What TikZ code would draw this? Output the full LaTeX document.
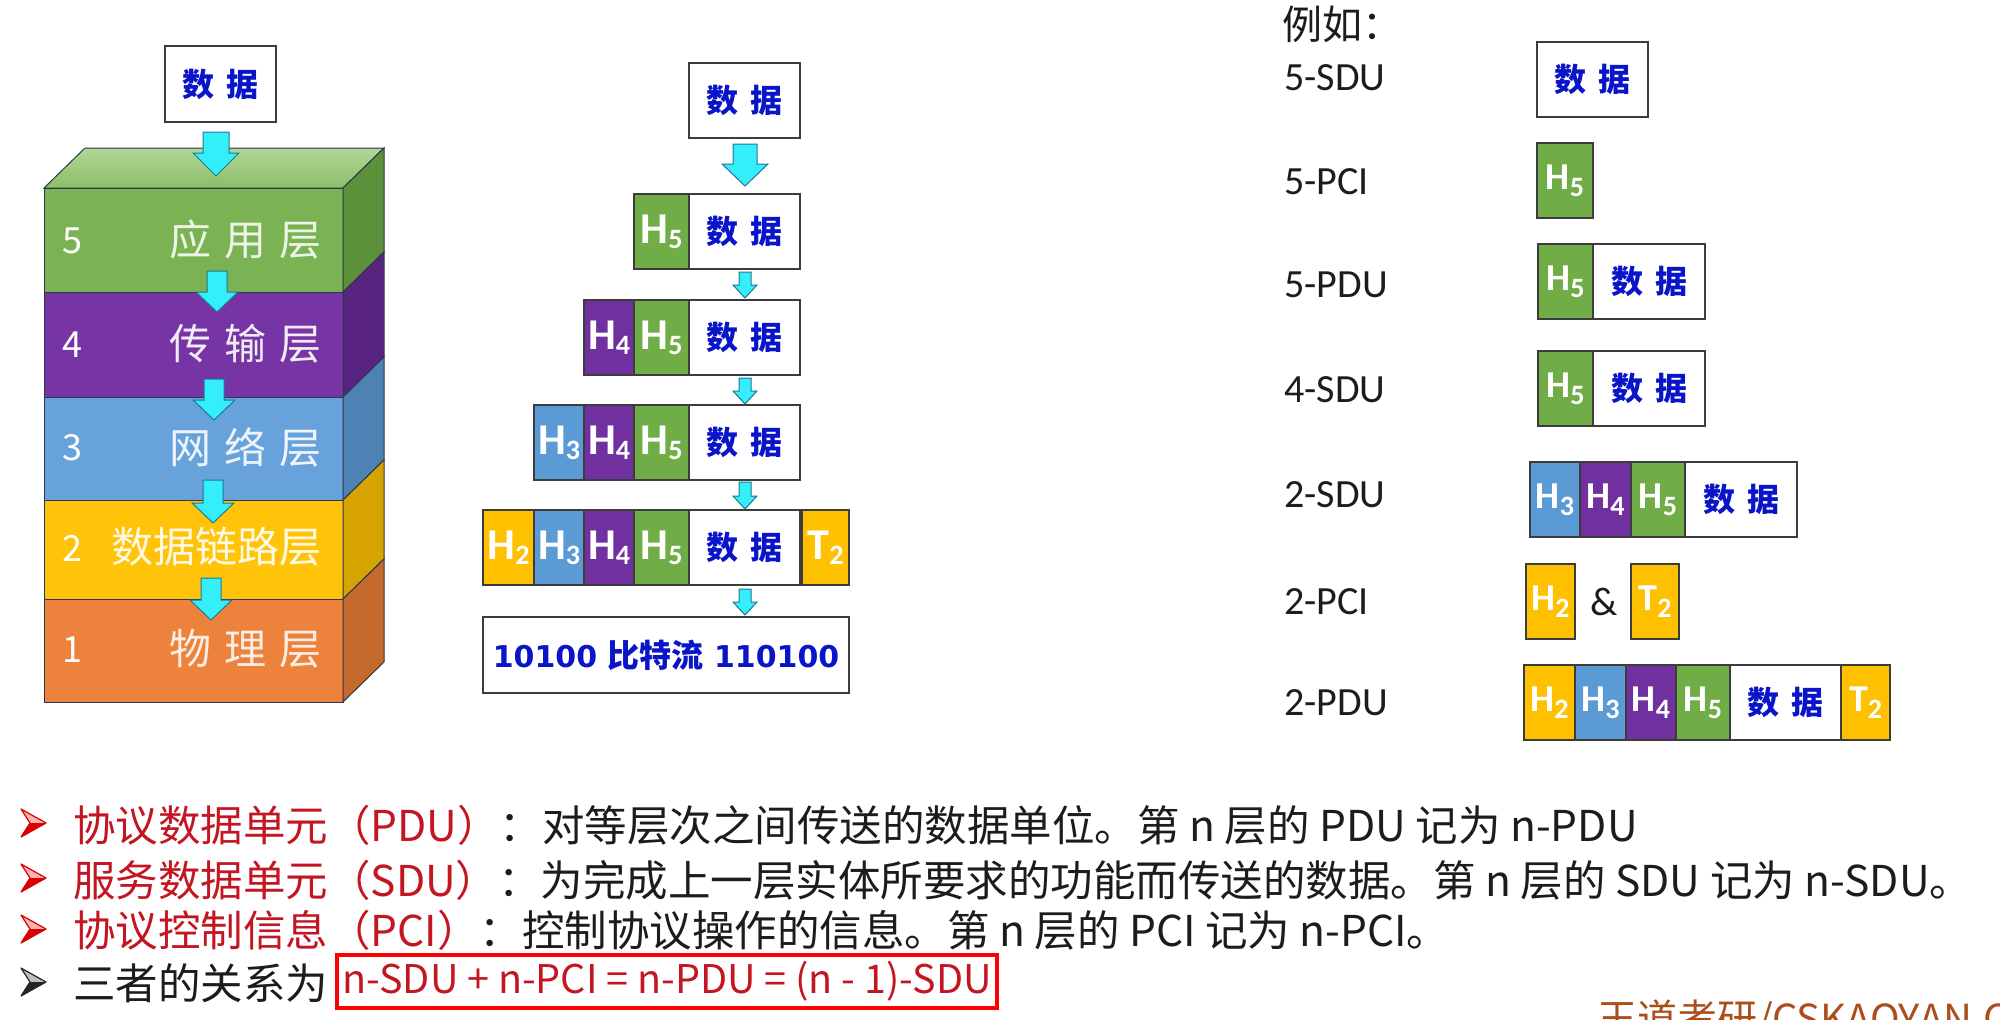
\documentclass[tikz,border=0pt]{standalone}
\usepackage{fontspec}
\newfontfamily\cjk{Noto Sans CJK SC}
\newfontfamily\calf{Carlito}
\newfontfamily\dvs{DejaVu Sans}
\usetikzlibrary{calc}

\definecolor{cgreen}{RGB}{112,173,71}
\definecolor{cpurple}{RGB}{112,48,160}
\definecolor{cblue}{RGB}{91,155,213}
\definecolor{cgold}{RGB}{255,192,0}
\definecolor{corange}{RGB}{237,125,49}
\definecolor{sgreen}{RGB}{122,178,84}
\definecolor{spurple}{RGB}{118,52,164}
\definecolor{sblue}{RGB}{104,162,218}
\definecolor{sgold}{RGB}{255,196,10}
\definecolor{sorange}{RGB}{236,130,60}
\definecolor{dgreen}{RGB}{92,145,60}
\definecolor{dpurple}{RGB}{88,36,128}
\definecolor{dblue2}{RGB}{78,130,180}
\definecolor{dgold}{RGB}{214,163,0}
\definecolor{dorange}{RGB}{196,106,44}
\definecolor{dblue}{RGB}{10,20,200}
\definecolor{myred}{RGB}{196,22,34}
\definecolor{txt}{RGB}{28,28,28}
\definecolor{brownish}{RGB}{172,78,28}
\definecolor{acyan}{RGB}{52,238,250}
\definecolor{aedge}{RGB}{30,120,150}
\definecolor{edge}{RGB}{60,60,60}

\newcommand\mH[2]{{\calf\bfseries\fontsize{44pt}{44pt}\selectfont #1\raisebox{-5pt}{\fontsize{28pt}{28pt}\selectfont #2}}}
\newcommand\rH[2]{{\calf\bfseries\fontsize{38pt}{38pt}\selectfont #1\raisebox{-7pt}{\fontsize{28pt}{28pt}\selectfont #2}}}
\newcommand\shuju{{\cjk\bfseries\fontsize{32pt}{32pt}\selectfont 数\hspace{12pt}据}}
\newcommand\blkarr[6]{\filldraw[arrst] ({#1-#5},#2) -- ({#1+#5},#2) -- ({#1+#5},{#3-#6}) -- ({#1+#4},{#3-#6}) -- (#1,#3) -- ({#1-#4},{#3-#6}) -- ({#1-#5},{#3-#6}) -- cycle;}
\newcommand\stlayer[4]{%
  \filldraw[stk, fill=#3] (44,#1) rectangle (343,#2);
  \filldraw[stk, fill=#4] (343,#1) -- (384,{#1-40}) -- (384,{#2-40}) -- (343,#2) -- cycle;}
\newcommand\bulshape[3]{%
  \fill[#2] (21,{#1-14}) -- (46,#1) -- (30,#1) -- cycle;
  \fill[#3] (30,#1) -- (46,#1) -- (21,{#1+14}) -- cycle;
  \draw[#3, line width=1.2pt, line join=round] (21,{#1-14}) -- (46,#1) -- (21,{#1+14}) -- (30,#1) -- cycle;}

\tikzset{
  stk/.style={draw={rgb,255:red,45;green,55;blue,75}, line width=1pt},
  arrst/.style={fill=acyan, draw=aedge, line width=1pt, line join=miter},
  bx/.style={draw=edge, line width=1.3pt, inner sep=0pt, outer sep=0pt, minimum height=75pt, anchor=north west, text=white},
  dbx/.style={bx, fill=white, text=dblue},
  lnum/.style={text=white, font=\cjk\fontsize{36pt}{36pt}\selectfont, inner sep=0pt},
  lname/.style={anchor=east, inner sep=0pt, font=\cjk\fontsize{42pt}{42pt}\selectfont},
  rl/.style={anchor=west, inner sep=0pt, text=txt, font=\calf\fontsize{40pt}{40pt}\selectfont},
  bl/.style={anchor=west, inner sep=0pt, text=txt, font=\cjk\fontsize{42.5pt}{42.5pt}\selectfont},
}

\begin{document}
\begin{tikzpicture}[x=1pt,y=-1pt]
\useasboundingbox (0,0) rectangle (2000,1020);
\clip (0,0) rectangle (2000,1020);
\fill[white] (0,0) rectangle (2000,1020);

% ---------- left stack ----------
\node[dbx, minimum width=111pt, minimum height=76pt] (top) at (165,46) {\shuju};
\shade[top color={rgb,255:red,178;green,214;blue,150}, bottom color={rgb,255:red,140;green,190;blue,104}] (44,188) -- (85,148) -- (384,148) -- (343,188) -- cycle;
\draw[stk] (44,188) -- (85,148) -- (384,148) -- (343,188) -- cycle;
\stlayer{188}{292}{sgreen}{dgreen}
\stlayer{292}{397}{spurple}{dpurple}
\stlayer{397}{500}{sblue}{dblue2}
\stlayer{500}{599}{sgold}{dgold}
\stlayer{599}{702}{sorange}{dorange}

\node[lnum] (n5) at (72,241) {5};
\node[lnum] (n4) at (72,345) {4};
\node[lnum] (n3) at (72,448) {3};
\node[lnum] (n2) at (72,548) {2};
\node[lnum] (n1) at (72,650) {1};
\node[lname, text=white!85!sgreen] (m5) at (322,240) {应\hspace{13pt}用\hspace{13pt}层};
\node[lname, text=white!90!spurple] (m4) at (322,344) {传\hspace{13pt}输\hspace{13pt}层};
\node[lname, text=white!88!sblue] (m3) at (322,447) {网\hspace{13pt}络\hspace{13pt}层};
\node[lname, text=white!88!sgold] (m2) at (322,547) {数据链路层};
\node[lname, text=white!85!sorange] (m1) at (322,649) {物\hspace{13pt}理\hspace{13pt}层};

\blkarr{216}{132}{176}{23}{13}{23}
\blkarr{217}{271}{312}{21}{10}{20}
\blkarr{214}{379}{420}{21}{10}{20}
\blkarr{213}{480}{523}{21}{10}{20}
\blkarr{211}{578}{620}{21}{10}{20}

% ---------- middle column ----------
\node[dbx, minimum width=111pt] (d0) at (689,63) {\shuju};
\node[bx, fill=cgreen, minimum width=55pt] (a5) at (634,194) {\mH{H}{5}};
\node[dbx, minimum width=111pt] (ad) at (689,194) {\shuju};
\node[bx, fill=cpurple, minimum width=50pt] (b4) at (584,300) {\mH{H}{4}};
\node[bx, fill=cgreen, minimum width=55pt] (b5) at (634,300) {\mH{H}{5}};
\node[dbx, minimum width=111pt] (bd) at (689,300) {\shuju};
\node[bx, fill=cblue, minimum width=50pt] (c3) at (534,405) {\mH{H}{3}};
\node[bx, fill=cpurple, minimum width=50pt] (c4) at (584,405) {\mH{H}{4}};
\node[bx, fill=cgreen, minimum width=55pt] (c5) at (634,405) {\mH{H}{5}};
\node[dbx, minimum width=111pt] (cd) at (689,405) {\shuju};
\node[bx, fill=cgold, minimum width=51pt] (e2) at (483,510) {\mH{H}{2}};
\node[bx, fill=cblue, minimum width=50pt] (e3) at (534,510) {\mH{H}{3}};
\node[bx, fill=cpurple, minimum width=50pt] (e4) at (584,510) {\mH{H}{4}};
\node[bx, fill=cgreen, minimum width=55pt] (e5) at (634,510) {\mH{H}{5}};
\node[dbx, minimum width=111pt] (ed) at (689,510) {\shuju};
\node[bx, fill=cgold, minimum width=47pt] (et) at (802,510) {\mH{T}{2}};
\node[dbx, minimum width=366pt, minimum height=76pt] (bits) at (483,617) {{\dvs\bfseries\fontsize{30pt}{30pt}\selectfont 10100 {\cjk\fontsize{32pt}{32pt}\selectfont 比特流} 110100}};

\blkarr{745}{144}{186}{23}{12}{22}
\blkarr{745}{272}{298}{12}{6}{13}
\blkarr{745}{378}{404}{12}{6}{13}
\blkarr{745}{482}{509}{12}{6}{13}
\blkarr{745}{589}{615}{12}{6}{13}

% ---------- right column ----------
\node[anchor=west, inner sep=0pt, text=txt, font=\cjk\fontsize{40pt}{40pt}\selectfont] (eg) at (1282,24) {例如：};
\node[rl] (l1) at (1284,78) {5-SDU};
\node[rl] (l2) at (1284,182) {5-PCI};
\node[rl] (l3) at (1284,285) {5-PDU};
\node[rl] (l4) at (1284,390) {4-SDU};
\node[rl] (l5) at (1284,495) {2-SDU};
\node[rl] (l6) at (1284,602) {2-PCI};
\node[rl] (l7) at (1284,703) {2-PDU};

\node[dbx, minimum width=111pt] (p1) at (1537,42) {\shuju};
\node[bx, fill=cgreen, minimum width=56pt] (p2) at (1537,143) {\rH{H}{5}};
\node[bx, fill=cgreen, minimum width=55pt] (p3h) at (1538,244) {\rH{H}{5}};
\node[dbx, minimum width=112pt] (p3d) at (1593,244) {\shuju};
\node[bx, fill=cgreen, minimum width=55pt] (p4h) at (1538,351) {\rH{H}{5}};
\node[dbx, minimum width=112pt] (p4d) at (1593,351) {\shuju};
\node[bx, fill=cblue, minimum width=50pt] (p5a) at (1530,462) {\rH{H}{3}};
\node[bx, fill=cpurple, minimum width=51pt] (p5b) at (1580,462) {\rH{H}{4}};
\node[bx, fill=cgreen, minimum width=54pt] (p5c) at (1631,462) {\rH{H}{5}};
\node[dbx, minimum width=112pt] (p5d) at (1685,462) {\shuju};
\node[bx, fill=cgold, minimum width=49pt] (p6a) at (1526,564) {\rH{H}{2}};
\node[inner sep=0pt, text=txt, font=\calf\fontsize{40pt}{40pt}\selectfont] (amp) at (1604,602) {\&};
\node[bx, fill=cgold, minimum width=48pt] (p6b) at (1631,564) {\rH{T}{2}};
\node[bx, fill=cgold, minimum width=51pt] (p7a) at (1524,665) {\rH{H}{2}};
\node[bx, fill=cblue, minimum width=51pt] (p7b) at (1575,665) {\rH{H}{3}};
\node[bx, fill=cpurple, minimum width=50pt] (p7c) at (1626,665) {\rH{H}{4}};
\node[bx, fill=cgreen, minimum width=54pt] (p7d) at (1676,665) {\rH{H}{5}};
\node[dbx, minimum width=111pt] (p7e) at (1730,665) {\shuju};
\node[bx, fill=cgold, minimum width=49pt] (p7f) at (1841,665) {\rH{T}{2}};

% ---------- bottom text ----------
\bulshape{823}{red!30!white}{red!85!black}
\bulshape{878}{red!30!white}{red!85!black}
\bulshape{929}{red!30!white}{red!85!black}
\bulshape{982}{black!25!white}{black!85!white}
\node[bl] (t1) at (73,825) {{\color{myred}协议数据单元（PDU）}：对等层次之间传送的数据单位。第 n 层的 PDU 记为 n-PDU};
\node[bl] (t2) at (73,880) {{\color{myred}服务数据单元（SDU）}：为完成上一层实体所要求的功能而传送的数据。第 n 层的 SDU 记为 n-SDU。};
\node[bl] (t3) at (73,930) {{\color{myred}协议控制信息（PCI）}：控制协议操作的信息。第 n 层的 PCI 记为 n-PCI。};
\node[bl] (t4) at (73,983) {三者的关系为};
\node[draw=red, line width=4pt, text=myred, minimum width=660pt, minimum height=53pt, inner sep=0pt, anchor=west, font=\cjk\fontsize{39.5pt}{39.5pt}\selectfont] (rel) at (335,981.5) {n-SDU + n-PCI = n-PDU = (n - 1)-SDU};
\node[anchor=base west, inner sep=0pt, text=brownish, font=\cjk\fontsize{40pt}{40pt}\selectfont] (wd) at (1597,1033) {王道考研/CSKAOYAN.COM};
\end{tikzpicture}
\end{document}
